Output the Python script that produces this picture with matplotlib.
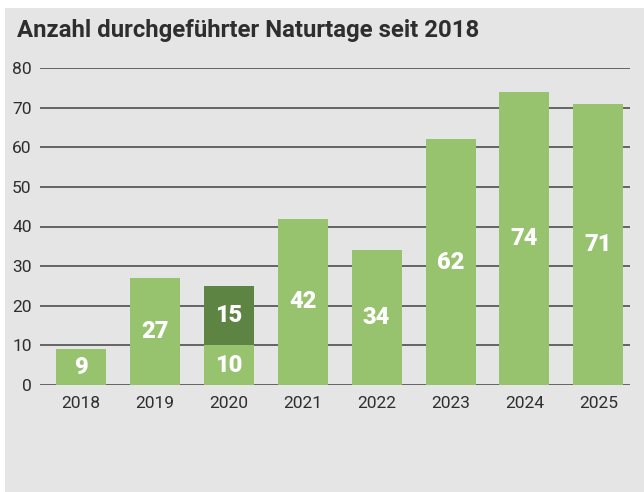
import matplotlib
matplotlib.use("Agg")
import matplotlib.pyplot as plt
from matplotlib.patches import Rectangle

years = ["2018", "2019", "2020", "2021", "2022", "2023", "2024", "2025"]
base_values = [9, 27, 10, 42, 34, 62, 74, 71]
extra_values = [0, 0, 15, 0, 0, 0, 0, 0]
y_ticks = [0, 10, 20, 30, 40, 50, 60, 70, 80]

light = "#97c36f"
dark = "#5e8444"
bg = "#e5e5e5"
txt = "#2e2e2e"

plt.rcParams['font.family'] = ['Roboto', 'DejaVu Sans']

W, H = 644, 492
fig = plt.figure(figsize=(W/100, H/100), dpi=100, facecolor="white")
fig.patches.append(Rectangle((5/W, 0), 1 - 5/W, 1 - 8/H, transform=fig.transFigure,
                             facecolor=bg, edgecolor="none", zorder=-10))

left, right = 40, 630
top, bottom = 68, 385
ax = fig.add_axes([left/W, 1 - bottom/H, (right-left)/W, (bottom-top)/H])
ax.set_facecolor("none")

x = list(range(len(years)))
spacing = 73.9
x0 = (left - 81) / spacing
x1 = (right - 81) / spacing
ax.set_xlim(x0, x1)
ax.set_ylim(0, 80)

bw = 50 / spacing
ax.bar(x, base_values, width=bw, color=light, zorder=3)
ax.bar(x, extra_values, bottom=base_values, width=bw, color=dark, zorder=3)

for xi, b, e in zip(x, base_values, extra_values):
    ax.text(xi, b/2, str(b), ha="center", va="center", color="white",
            fontsize=17, fontweight="black", zorder=4)
    if e > 0:
        ax.text(xi, b + e/2, str(e), ha="center", va="center", color="white",
                fontsize=17, fontweight="black", zorder=4)

ax.set_yticks(y_ticks)
ax.set_yticklabels([str(t) for t in y_ticks])
ax.set_xticks(x)
ax.set_xticklabels(years)
ax.tick_params(axis="y", length=0, pad=6, labelsize=12.5, labelcolor=txt)
ax.tick_params(axis="x", length=0, pad=8, labelsize=12.5, labelcolor=txt)
for s in ax.spines.values():
    s.set_visible(False)
ax.yaxis.grid(True, color="#5a5a5a", linewidth=1.3, zorder=1)
ax.set_axisbelow(True)

fig.text(17/W, 1 - 31/H, "Anzahl durchgeführter Naturtage seit 2018", ha="left", va="center",
         fontsize=17.2, fontweight="bold", color=txt)

fig.savefig("out.png", dpi=100, facecolor="white")
